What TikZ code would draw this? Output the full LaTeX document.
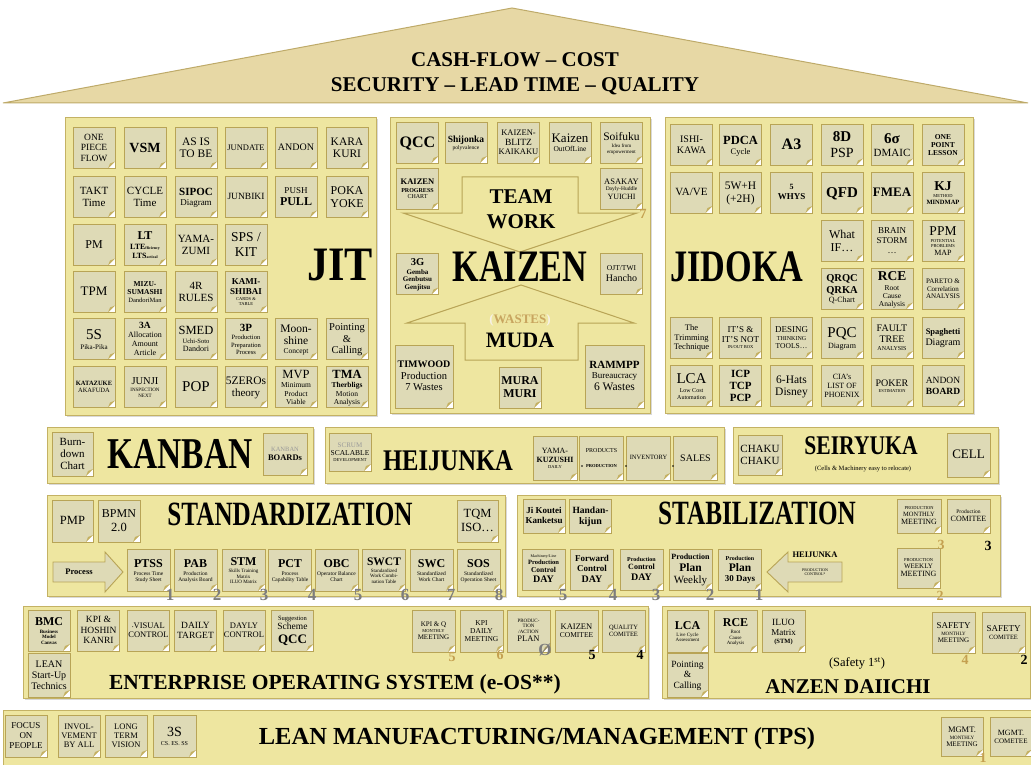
\documentclass[tikz,border=0pt]{standalone}
\usepackage{fontspec}
\setmainfont{Liberation Serif}
\usetikzlibrary{shadows}

\definecolor{panelfill}{RGB}{238,230,160}
\definecolor{panelline}{RGB}{196,178,100}
\definecolor{notefill}{RGB}{222,218,182}
\definecolor{noteline}{RGB}{184,164,86}
\definecolor{foldfill}{RGB}{196,176,98}
\definecolor{rooffill}{RGB}{231,216,165}
\definecolor{roofline}{RGB}{190,170,105}
\definecolor{numgrey}{RGB}{125,125,125}
\definecolor{numgold}{RGB}{196,160,80}
\definecolor{wastecol}{RGB}{200,165,95}

\newcommand\fz[1]{\fontsize{#1}{#1}\selectfont\rule[-0.25\dimexpr#1pt\relax]{0pt}{1.1\dimexpr#1pt\relax}}
\newcommand\fb[1]{\fz{#1}\bfseries}
\newcommand\squeeze[1]{\scalebox{0.76}[1]{#1}}

\tikzset{
  panel/.style={draw=panelline, fill=panelfill, line width=1pt,
    drop shadow={shadow xshift=1.5pt, shadow yshift=-1.5pt, opacity=0.3}},
  roof/.style={draw=roofline, fill=rooffill, line width=1pt},
  note/.style={draw=noteline, fill=notefill, line width=0.9pt,
    minimum width=42pt, minimum height=41pt, inner sep=0pt, align=center,
    font={\fontsize{1}{1}\selectfont\lineskip=0pt\relax},
    path picture={
      \fill[white] (path picture bounding box.south east)
        -- ([xshift=-7pt]path picture bounding box.south east)
        -- ([yshift=7pt]path picture bounding box.south east) -- cycle;
      \fill[foldfill] ([xshift=-7pt]path picture bounding box.south east)
        -- ([yshift=7pt]path picture bounding box.south east)
        -- ([xshift=-5pt,yshift=5pt]path picture bounding box.south east) -- cycle;
    }},
  title/.style={inner sep=0pt, font=\bfseries},
  rooftext/.style={inner sep=0pt, font=\fb{21}},
  num/.style={inner sep=0pt, text=numgrey, font=\fb{17}},
  numgold/.style={num, text=numgold, font=\fb{14}},
  numblack/.style={num, text=black, font=\fb{14}},
  teamarrow/.style={draw=noteline, fill=panelfill, line width=1pt},
  flowarrow/.style={draw=noteline, fill=notefill, line width=0.9pt},
}

\begin{document}
\begin{tikzpicture}[x=1pt, y=-1pt]
    \useasboundingbox (0,0) rectangle (1031,765);

    \draw[roof] (3,103) -- (512,8) -- (1028,103) -- cycle;
    \node[rooftext] (cash) at (515,60) {CASH-FLOW – COST};
    \node[rooftext] (security) at (515,85) {SECURITY – LEAD TIME – QUALITY};

    % JIT
    \draw[panel] (65,118) rectangle (376,415);
    \node[note] (onepiece) at (94,148) {\fz{9.5}ONE\\\fz{9.5}PIECE\\\fz{9.5}FLOW};
    \node[note] (vsm) at (145,148) {\fb{14}VSM};
    \node[note] (asis) at (196,148) {\fz{11.5}AS IS\\\fz{11.5}TO BE};
    \node[note] (jundate) at (246,148) {\fz{8.5}JUNDATE};
    \node[note] (andon) at (296,148) {\fz{10}ANDON};
    \node[note] (karakuri) at (347,148) {\fz{11.5}KARA\\\fz{11.5}KURI};
    \node[note] (takt) at (94,197) {\fz{11}TAKT\\\fz{11}Time};
    \node[note] (cycle) at (145,197) {\fz{11}CYCLE\\\fz{11}Time};
    \node[note] (sipoc) at (196,197) {\fb{11}SIPOC\\\fz{9}Diagram};
    \node[note] (junbiki) at (246,197) {\fz{9.5}JUNBIKI};
    \node[note] (pushpull) at (296,197) {\fz{9}PUSH\\\fb{12}PULL};
    \node[note] (pokayoke) at (347,197) {\fz{12}POKA\\\fz{12}YOKE};
    \node[note] (pm) at (94,245) {\fz{12}PM};
    \node[note] (lt) at (145,245) {\fb{12}LT\\\fb{8}LTE{\fz{4}fficiency}\\\fb{8}LTS{\fz{4}actical}};
    \node[note] (yamazumi) at (196,245) {\fz{11}YAMA-\\\fz{11}ZUMI};
    \node[note] (spskit) at (246,245) {\fz{13.5}SPS /\\\fz{13.5}KIT};
    \node[note] (tpm) at (94,292) {\fz{13}TPM};
    \node[note] (mizu) at (145,292) {\fb{7.5}MIZU-\\\fb{7.5}SUMASHI\\\fz{6.5}DandoriMan};
    \node[note] (fourr) at (196,292) {\fz{11}4R\\\fz{11}RULES};
    \node[note] (kamishibai) at (246,292) {\fb{9}KAMI-\\\fb{9}SHIBAI\\\fz{4.5}CARDS \&\\\fz{4.5}TABLE};
    \node[note] (fives) at (94,339) {\fz{15}5S\\\fz{7}Pika-Pika};
    \node[note] (threea) at (145,339) {\fb{9.5}3A\\\fz{8}Allocation\\\fz{8}Amount\\\fz{8}Article};
    \node[note] (smed) at (196,339) {\fz{12.5}SMED\\\fz{6.5}Uchi-Soto\\\fz{8}Dandori};
    \node[note] (threep) at (246,339) {\fb{11}3P\\\fz{6.5}Production\\\fz{6.5}Preparation\\\fz{6.5}Process};
    \node[note] (moonshine) at (296,339) {\fz{11.5}Moon-\\\fz{11.5}shine\\\fz{7.5}Concept};
    \node[note] (pointing) at (347,339) {\fz{10.5}Pointing\\\fz{10.5}\&\\\fz{10.5}Calling};
    \node[note] (katazuke) at (94,387) {\fb{6.5}KATAZUKE\\\fz{6.5}AKAFUDA};
    \node[note] (junji) at (145,387) {\fz{10.5}JUNJI\\\fz{5}INSPECTION\\\fz{5}NEXT};
    \node[note] (pop) at (196,387) {\fz{15}POP};
    \node[note] (fivezeros) at (246,387) {\fz{11.5}5ZEROs\\\fz{11}theory};
    \node[note] (mvp) at (296,387) {\fz{12.5}MVP\\\fz{7.5}Minimum\\\fz{7.5}Product\\\fz{7.5}Viable};
    \node[note] (tma) at (347,387) {\fb{12.5}TMA\\\fb{7.5}Therbligs\\\fz{7.5}Motion\\\fz{7.5}Analysis};
    \node[title, font=\fb{48}] (jit) at (340,266) {\scalebox{0.88}[1]{JIT}};

    % KAIZEN
    \draw[panel] (390,118) rectangle (650,413);
    \node[note] (qcc) at (417.5,142.5) {\fb{16}QCC};
    \node[note] (shijonka) at (466,142.5) {\fb{9.5}Shijonka\\\fz{5.5}polyvalence};
    \node[note] (blitz) at (518.5,142.5) {\fz{8.5}KAIZEN-\\\fz{9.5}BLITZ\\\fz{8.5}KAIKAKU};
    \node[note] (outofline) at (570,142.5) {\fz{13}Kaizen\\\fz{7.5}OutOfLine};
    \node[note] (soifuku) at (621.5,142.5) {\fz{11.5}Soifuku\\\fz{5}Idea from\\\fz{5}empowerment};
    \node[note] (progress) at (417.5,189) {\fb{8.5}KAIZEN\\\fb{6}PROGRESS\\\fz{6}CHART};
    \node[note] (asakay) at (621.5,189) {\fz{8.5}ASAKAY\\\fz{5.5}Dayly-Huddle\\\fz{8}YUICHI};
    \node[numgold] (seven) at (643,214) {7};
    \draw[teamarrow] (462,177) -- (578,177) -- (578,213) -- (637,213) -- (520,252) -- (403,213) -- (462,213) -- cycle;
    \node[title, font=\fb{21}] (team) at (521,197) {TEAM};
    \node[title, font=\fb{21}] (work) at (521,222) {WORK};
    \node[title, font=\fb{45}] (kaizen) at (520,268) {\squeeze{KAIZEN}};
    \node[note] (threeg) at (417.5,274) {\fb{10.5}3G\\\fb{7}Gemba\\\fb{7}Genbutsu\\\fb{7}Genjitsu};
    \node[note] (ojt) at (621.5,274) {\fz{7.5}OJT/TWI\\\fz{10}Hancho};
    \draw[teamarrow] (521,285) -- (634,323) -- (578,323) -- (578,360) -- (465,360) -- (465,323) -- (407,323) -- cycle;
    \node[title, font=\fb{13}, text=wastecol] (wastes) at (520,320) {{\color{white!85!wastecol}(}WASTES{\color{white!85!wastecol})}};
    \node[title, font=\fb{22}] (muda) at (520,341) {MUDA};
    \node[note, minimum width=58pt, minimum height=63pt] (timwood) at (424,376.5) {\fb{10}TIMWOOD\\\fz{10.5}Production\\\fz{10.5}7 Wastes};
    \node[note] (muramuri) at (520,387.5) {\fb{12}MURA\\\fb{12}MURI};
    \node[note, minimum width=59pt, minimum height=63pt] (rammpp) at (614.5,376.5) {\fb{11}RAMMPP\\\fz{9}Bureaucracy\\\fz{11.5}6 Wastes};

    % JIDOKA
    \draw[panel] (665,118) rectangle (973,413);
    \node[note] (ishikawa) at (691.5,145) {\fz{10}ISHI-\\\fz{10}KAWA};
    \node[note] (pdca) at (740.5,145) {\fb{12.5}PDCA\\\fz{8.5}Cycle};
    \node[note] (athree) at (791.5,145) {\fb{16}A3};
    \node[note] (eightd) at (842,145) {\fb{15}8D\\\fz{14}PSP};
    \node[note] (sixsigma) at (892,145) {\fb{15}6σ\\\fz{11}DMAIC};
    \node[note] (onepoint) at (943,145) {\fb{7.5}ONE\\\fb{7.5}POINT\\\fb{7.5}LESSON};
    \node[note] (vave) at (691.5,192.5) {\fz{11}VA/VE};
    \node[note] (fivew) at (740.5,192.5) {\fz{11.5}5W+H\\\fz{11.5}(+2H)};
    \node[note] (fivewhys) at (791.5,192.5) {\fb{8}5\\\fb{9}WHYS};
    \node[note] (qfd) at (842,192.5) {\fb{15}QFD};
    \node[note] (fmea) at (892,192.5) {\fb{13}FMEA};
    \node[note] (kj) at (943,192.5) {\fb{13.5}KJ\\\fz{4.5}METHOD\\\fb{6.5}MINDMAP};
    \node[note] (whatif) at (842,241) {\fz{12}What\\\fz{12}IF…};
    \node[note] (brain) at (892,241) {\fz{9}BRAIN\\\fz{9}STORM\\\fz{9}…};
    \node[note] (ppm) at (943,241) {\fz{13.5}PPM\\\fz{4.5}POTENTIAL\\\fz{4.5}PROBLEMS\\\fz{8}MAP};
    \node[note] (qrqc) at (842,289) {\fb{10.5}QRQC\\\fb{10.5}QRKA\\\fz{8}Q-Chart};
    \node[note] (rce) at (892,289) {\fb{13.5}RCE\\\fz{7.5}Root\\\fz{7.5}Cause\\\fz{7.5}Analysis};
    \node[note] (pareto) at (943,289) {\fz{7}PARETO \&\\\fz{7}Correlation\\\fz{7}ANALYSIS};
    \node[note] (trimming) at (691.5,337.5) {\fz{8.5}The\\\fz{8.5}Trimming\\\fz{8.5}Technique};
    \node[note] (itsnot) at (740.5,337.5) {\fz{9}IT'S \&\\\fz{9}IT'S NOT\\\fz{4.5}IN/OUT BOX};
    \node[note] (desing) at (791.5,337.5) {\fz{9}DESING\\\fz{6}THINKING\\\fz{7.5}TOOLS…};
    \node[note] (pqc) at (842,337.5) {\fz{15}PQC\\\fz{8}Diagram};
    \node[note] (fault) at (892,337.5) {\fz{10}FAULT\\\fz{10}TREE\\\fz{6}ANALYSIS};
    \node[note] (spaghetti) at (943,337.5) {\fb{8.5}Spaghetti\\\fz{10}Diagram};
    \node[note] (lcalow) at (691.5,386) {\fz{15}LCA\\\fz{6}Low Cost\\\fz{6}Automation};
    \node[note] (icp) at (740.5,386) {\fb{11}ICP\\\fb{11}TCP\\\fb{11}PCP};
    \node[note] (sixhats) at (791.5,386) {\fz{11.5}6-Hats\\\fz{11.5}Disney};
    \node[note] (phoenix) at (842,386) {\fz{8}CIA's\\\fz{8}LIST OF\\\fz{8}PHOENIX};
    \node[note] (poker) at (892,386) {\fz{10}POKER\\\fz{4.5}ESTIMATION};
    \node[note] (andonboard) at (943,386) {\fz{9.5}ANDON\\\fb{9.5}BOARD};
    \node[title, font=\fb{45}] (jidoka) at (737,268) {\squeeze{JIDOKA}};

    % KANBAN / HEIJUNKA / SEIRYUKA
    \draw[panel] (47,427) rectangle (313,483);
    \node[note, minimum width=41pt, minimum height=44pt] (burndown) at (72.5,454) {\fz{11}Burn-\\\fz{11}down\\\fz{11}Chart};
    \node[title, font=\fb{44}] (kanban) at (180,455) {\squeeze{KANBAN}};
    \node[note, minimum width=44pt, minimum height=42pt] (kanbanboards) at (285,454) {\fz{6.5}\color{black!40}KANBAN\\\fb{8.5}BOARDs};

    \draw[panel] (325,427) rectangle (724,483);
    \node[note, minimum height=38pt] (scrum) at (350,452) {\fz{7}\color{black!40}SCRUM\\\fz{7.5}SCALABLE\\\fz{4.5}DEVELOPMENT};
    \node[title, font=\fb{30}] (heijunka) at (448,461) {\scalebox{0.82}[1]{HEIJUNKA}};
    \node[note, minimum width=44pt, minimum height=44pt] (kuzushi) at (555,458) {\fz{8}YAMA-\\\fb{8}KUZUSHI\\\fz{4.5}DAILY};
    \node[note, minimum width=44pt, minimum height=44pt] (products) at (601.5,458) {\fz{6}PRODUCTS\\[9pt]\fb{4.5}PRODUCTION};
    \node[note, minimum width=44pt, minimum height=44pt] (inventory) at (648.5,458) {\fz{6.5}INVENTORY};
    \node[note, minimum width=44pt, minimum height=44pt] (sales) at (695.5,458) {\fz{10}SALES};
    \fill (582,466) circle (0.9);
    \fill (626,466) circle (0.9);
    \fill (673,466) circle (0.9);

    \draw[panel] (733,427) rectangle (998,483);
    \node[note, minimum width=44pt, minimum height=40pt] (chaku) at (760,455) {\fz{11}CHAKU\\\fz{11}CHAKU};
    \node[title, font=\fb{27}] (seiryuka) at (861,446) {\scalebox{0.8}[1]{SEIRYUKA}};
    \node[inner sep=0pt, font=\fz{6.5}] (relocate) at (863,469) {(Cells \& Machinery easy to relocate)};
    \node[note, minimum width=43pt, minimum height=44pt] (cell) at (968.5,455) {\fz{13}CELL};

    % STANDARDIZATION
    \draw[panel] (47,495) rectangle (505,596);
    \node[note, minimum width=41pt, minimum height=42pt] (pmp) at (72.5,521) {\fz{12.5}PMP};
    \node[note, minimum width=42pt, minimum height=42pt] (bpmn) at (119,521) {\fz{12}BPMN\\\fz{12.5}2.0};
    \node[title, font=\fb{34}] (standard) at (290,515) {\scalebox{0.74}[1]{STANDARDIZATION}};
    \node[note, minimum width=41pt, minimum height=42pt] (tqm) at (477.5,521) {\fz{12.5}TQM\\\fz{12.5}ISO…};
    \draw[flowarrow] (53,562) -- (105,562) -- (105,552) -- (123,572) -- (105,592) -- (105,582) -- (53,582) -- cycle;
    \node[inner sep=0pt, font=\fb{8.5}] (process) at (79,572) {Process};
    \node[note, minimum width=43pt, minimum height=42pt] (ptss) at (148.5,570) {\fb{12}PTSS\\\fz{5.5}Process Time\\\fz{5.5}Study Sheet};
    \node[note, minimum width=43pt, minimum height=42pt] (pab) at (195.5,570) {\fb{12}PAB\\\fz{5.5}Production\\\fz{5.5}Analysis Board};
    \node[note, minimum width=43pt, minimum height=42pt] (stm) at (243.5,570) {\fb{12}STM\\\fz{5}Skills Training\\\fz{5}Matrix\\\fz{5}ILUO Matrix};
    \node[note, minimum width=43pt, minimum height=42pt] (pct) at (290,570) {\fb{12}PCT\\\fz{5.5}Process\\\fz{5.5}Capability Table};
    \node[note, minimum width=43pt, minimum height=42pt] (obc) at (336.5,570) {\fb{12}OBC\\\fz{5.5}Operator Balance\\\fz{5.5}Chart};
    \node[note, minimum width=43pt, minimum height=42pt] (swct) at (384,570) {\fb{11.5}SWCT\\\fz{5}Standardized\\\fz{5}Work Combi-\\\fz{5}nation Table};
    \node[note, minimum width=43pt, minimum height=42pt] (swc) at (431.5,570) {\fb{12}SWC\\\fz{5.5}Standardized\\\fz{5.5}Work Chart};
    \node[note, minimum width=43pt, minimum height=42pt] (sos) at (478.5,570) {\fb{12}SOS\\\fz{5.5}Standardized\\\fz{5.5}Operation Sheet};
    \node[num] (s1) at (170,595) {1};
    \node[num] (s2) at (217,595) {2};
    \node[num] (s3) at (264,595) {3};
    \node[num] (s4) at (312,595) {4};
    \node[num] (s5) at (358,595) {5};
    \node[num] (s6) at (405,595) {6};
    \node[num] (s7) at (451,595) {7};
    \node[num] (s8) at (499,595) {8};

    % STABILIZATION
    \draw[panel] (517,495) rectangle (1000,596);
    \node[note, minimum width=42pt, minimum height=34pt] (jikoutei) at (544,516) {\fb{9}Ji Koutei\\\fb{9}Kanketsu};
    \node[note, minimum width=42pt, minimum height=34pt] (handan) at (590.5,516) {\fb{9.5}Handan-\\\fb{10}kijun};
    \node[title, font=\fb{34}] (stabil) at (757,514) {\scalebox{0.74}[1]{STABILIZATION}};
    \node[note, minimum width=44pt, minimum height=34pt] (prodmonthly) at (919,516) {\fz{4.5}PRODUCTION\\\fz{6.5}MONTHLY\\\fz{8}MEETING};
    \node[note, minimum width=43pt, minimum height=34pt] (prodcomitee) at (968.5,516) {\fz{5.5}Production\\\fz{8}COMITEE};
    \node[numgold] (m3) at (941,545) {3};
    \node[numblack] (c3) at (988,546) {3};
    \node[note, minimum width=43pt] (machday) at (543.5,569.5) {\fz{4}Machinery/Line\\\fb{6.5}Production\\\fb{7.5}Control\\\fb{10}DAY};
    \node[note, minimum width=43pt] (forward) at (592,569.5) {\fb{9}Forward\\\fb{9}Control\\\fb{10}DAY};
    \node[note, minimum width=43pt] (prodday) at (641.5,569.5) {\fb{6}Production\\\fb{8}Control\\\fb{10}DAY};
    \node[note, minimum width=43pt] (planweek) at (690.5,569.5) {\fb{8}Production\\\fb{11.5}Plan\\\fz{11}Weekly};
    \node[note, minimum width=43pt] (plan30) at (740,569.5) {\fb{6}Production\\\fb{11.5}Plan\\\fb{9}30 Days};
    \node[num] (t5) at (563,595) {5};
    \node[num] (t4) at (613,595) {4};
    \node[num] (t3) at (656,595) {3};
    \node[num] (t2) at (710,595) {2};
    \node[num] (t1) at (759,595) {1};
    \draw[flowarrow] (842,562) -- (788,562) -- (788,552) -- (767,572) -- (788,592) -- (788,582) -- (842,582) -- cycle;
    \node[inner sep=0pt, font=\fb{8.5}] (heijlabel) at (815,555) {HEIJUNKA};
    \node[inner sep=0pt, align=center, font={\fontsize{1}{1}\selectfont\lineskip=0pt\relax}] (prodcontrol) at (815,572) {\fz{4}PRODUCTION\\\fz{4}CONTROL*};
    \node[note, minimum width=43pt, minimum height=40pt] (prodweekly) at (918.5,568) {\fz{4.5}PRODUCTION\\\fz{7}WEEKLY\\\fz{8}MEETING};
    \node[numgold] (w2) at (940,596) {2};

    % ENTERPRISE OPERATING SYSTEM
    \draw[panel] (23,606) rectangle (648,698);
    \node[note] (bmc) at (49,630.5) {\fb{12}BMC\\\fb{5}Business\\\fb{5}Model\\\fb{5}Canvas};
    \node[note] (hoshin) at (98.5,630.5) {\fz{9.5}KPI \&\\\fz{9.5}HOSHIN\\\fz{9.5}KANRI};
    \node[note] (visual) at (148.5,630.5) {\fz{8.5}{\fz{4}•}VISUAL\\\fz{8.5}CONTROL};
    \node[note] (target) at (195.5,630.5) {\fz{9.5}DAILY\\\fz{9.5}TARGET};
    \node[note] (dayly) at (244,630.5) {\fz{8.5}DAYLY\\\fz{8.5}CONTROL};
    \node[note] (suggestion) at (292.5,630.5) {\fz{6.5}Suggestion\\\fz{9.5}Scheme\\\fb{13}QCC};
    \node[note, minimum height=44pt] (leanstartup) at (49,675) {\fz{10}LEAN\\\fz{10}Start-Up\\\fz{10}Technics};
    \node[note, minimum width=43pt, minimum height=42pt] (kpiq) at (433.5,631) {\fz{7}KPI \& Q\\\fz{4.5}MONTHLY\\\fz{7}MEETING};
    \node[note, minimum width=43pt, minimum height=42pt] (kpidaily) at (481.5,631) {\fz{7.5}KPI\\\fz{7.5}DAILY\\\fz{7.5}MEETING};
    \node[note, minimum width=43pt, minimum height=42pt] (actionplan) at (528.5,631) {\fz{5}PRODUC-\\\fz{5}TION\\\fz{5}/ACTION\\\fz{8.5}PLAN};
    \node[note, minimum width=43pt, minimum height=42pt] (kaizencom) at (576.5,631) {\fz{8.5}KAIZEN\\\fz{7.5}COMITEE};
    \node[note, minimum width=43pt, minimum height=42pt] (qualitycom) at (623.5,631) {\fz{6.5}QUALITY\\\fz{6.5}COMITEE};
    \node[numgold] (e5) at (452,657) {5};
    \node[numgold] (e6) at (500,655) {6};
    \node[num] (e0) at (545,650) {Ø};
    \node[numblack] (k5) at (592,655) {5};
    \node[numblack] (q4) at (640,655) {4};
    \node[title, font=\fb{21.5}] (eos) at (335,683) {ENTERPRISE OPERATING SYSTEM (e-OS**)};

    % ANZEN DAIICHI
    \draw[panel] (662,606) rectangle (1030,698);
    \node[note, minimum width=41pt, minimum height=42pt] (lcalive) at (687.5,631) {\fb{12}LCA\\\fz{5}Live Cycle\\\fz{5}Assessment};
    \node[note, minimum width=43pt, minimum height=42pt] (rcesafety) at (735.5,631) {\fb{12}RCE\\\fz{5}Root\\\fz{5}Cause\\\fz{5}Analysis};
    \node[note, minimum width=43pt, minimum height=42pt] (iluo) at (783.5,631) {\fz{9.5}ILUO\\\fz{9}Matrix\\\fb{6.5}(STM)};
    \node[note, minimum width=41pt, minimum height=44pt] (pointsafety) at (687.5,675) {\fz{9.5}Pointing\\\fz{9.5}\&\\\fz{9.5}Calling};
    \node[note, minimum width=43pt] (safemonthly) at (953.5,632.5) {\fz{9}SAFETY\\\fz{5}MONTHLY\\\fz{7}MEETING};
    \node[note, minimum width=43pt] (safecom) at (1003.5,632.5) {\fz{9}SAFETY\\\fz{6.5}COMITEE};
    \node[numgold] (a4) at (965,660) {4};
    \node[numblack] (a2) at (1024,660) {2};
    \node[inner sep=0pt, font=\fz{12.5}] (safetyfirst) at (857,663) {(Safety 1\textsuperscript{st})};
    \node[title, font=\fb{21}] (anzen) at (848,687) {ANZEN DAIICHI};

    % LEAN MANUFACTURING
    \draw[panel] (3,710) rectangle (1040,780);
    \node[note, minimum height=42pt] (focus) at (26,736) {\fz{9}FOCUS\\\fz{9}ON\\\fz{9}PEOPLE};
    \node[note, minimum height=42pt] (involvement) at (79,736) {\fz{8.5}INVOL-\\\fz{8.5}VEMENT\\\fz{8.5}BY ALL};
    \node[note, minimum height=42pt] (longterm) at (126,736) {\fz{8.5}LONG\\\fz{8.5}TERM\\\fz{8.5}VISION};
    \node[note, minimum width=43pt, minimum height=42pt] (threes) at (174.5,736) {\fz{14}3S\\\fz{6}CS. ES. SS};
    \node[title, font=\fb{24.5}] (lean) at (537,737) {LEAN MANUFACTURING/MANAGEMENT (TPS)};
    \node[note, minimum height=39pt] (mgmtmonthly) at (962,737) {\fz{8.5}MGMT.\\\fz{5}MONTHLY\\\fz{7}MEETING};
    \node[note, minimum height=39pt] (mgmtcom) at (1011,737) {\fz{8}MGMT.\\\fz{7}COMETEE};
    \node[numgold] (g1) at (983,758) {1};

\end{tikzpicture}
\end{document}
